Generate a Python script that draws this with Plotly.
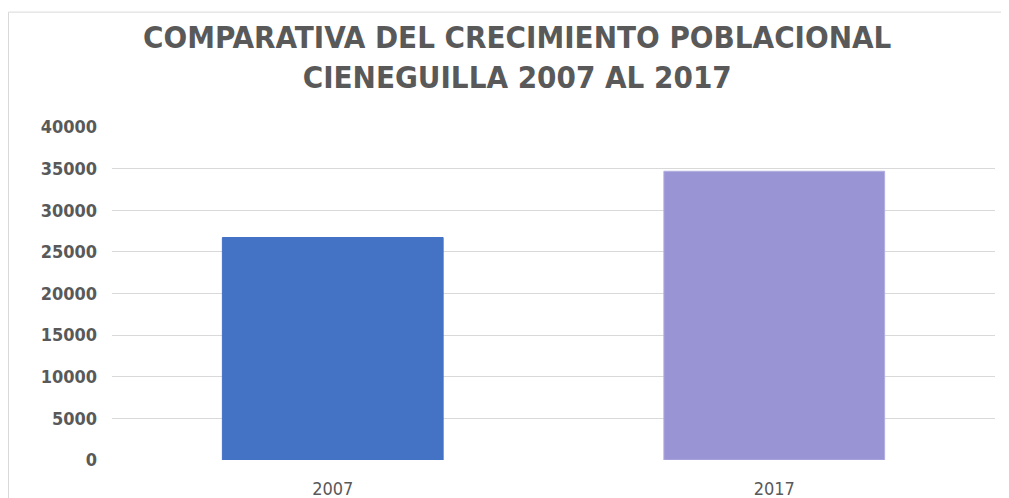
import plotly.graph_objects as go

years = ["2007", "2017"]
population = [26725, 34684]
bar_colors = ["#4472C4", "#9994D4"]
y_ticks = [0, 5000, 10000, 15000, 20000, 25000, 30000, 35000, 40000]

narrow = "DejaVu Sans Condensed, Liberation Sans Narrow, sans-serif"

fig = go.Figure(
    go.Bar(
        x=years, y=population,
        marker=dict(color=bar_colors, line=dict(color=["#4472C4", "#B3AEE0"], width=1)),
        hoverinfo="x+y",
    )
)

fig.update_layout(
    width=1009, height=498,
    margin=dict(l=104, r=22, t=119, b=46),
    paper_bgcolor="white", plot_bgcolor="white",
    bargap=0.5, showlegend=False,
    xaxis=dict(
        showgrid=False, showline=False, ticks="", automargin=False,
        ticklabelstandoff=16,
        tickfont=dict(family=narrow, size=18, color="#595959"),
    ),
    yaxis=dict(
        range=[0, 40000], tickvals=y_ticks, tickformat="d", automargin=False,
        showgrid=True, gridcolor="#d9d9d9", gridwidth=1,
        zeroline=False, showline=False, ticks="",
        ticklabelstandoff=14,
        tickfont=dict(family=narrow, size=18, color="#595959", weight="bold"),
    ),
    annotations=[dict(
        text="<b>COMPARATIVA DEL CRECIMIENTO POBLACIONAL<br>CIENEGUILLA 2007 AL 2017</b>",
        xref="paper", yref="paper", x=0.4587, y=1.21,
        xanchor="center", yanchor="middle", showarrow=False,
        font=dict(family=narrow, size=31, color="#595959"),
    )],
    shapes=[dict(
        type="rect", xref="paper", yref="paper",
        x0=-0.1172, x1=1.2, y0=-0.3, y1=1.345,
        line=dict(color="#d9d9d9", width=1), layer="below",
    )],
)

fig.write_html("out.html")
